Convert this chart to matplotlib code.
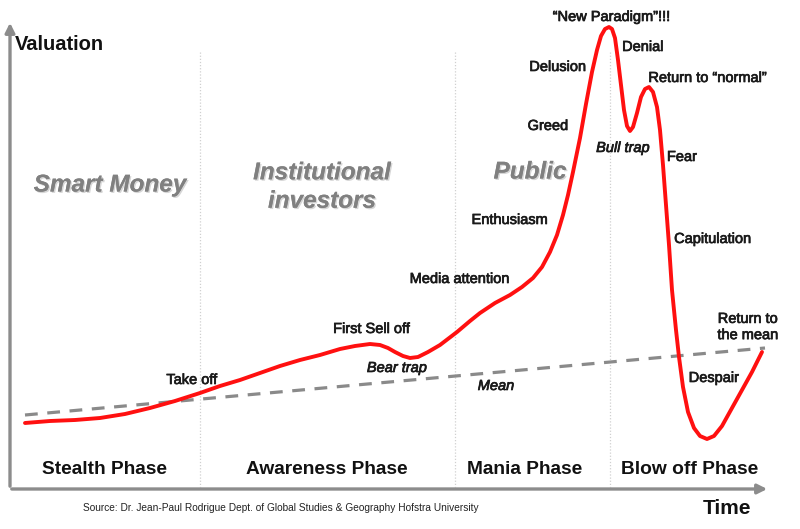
import matplotlib
matplotlib.use("Agg")
import matplotlib.pyplot as plt
import matplotlib.patheffects as pe

plt.rcParams["font.family"] = ["Liberation Sans", "DejaVu Sans"]

# curve: time (px from left), valuation (px from top)
time = [25, 50, 75, 100, 125, 150, 175, 200, 220, 240, 260, 280, 300, 320, 340,
        355, 370, 380, 388, 395, 403, 410, 418, 428, 440, 457, 470, 480, 495,
        510, 522, 533, 542, 550, 557, 563, 568, 573, 580, 586, 592, 597, 601,
        605, 609, 612, 615, 618, 621, 624, 627, 630, 633, 637, 641, 645, 649,
        653, 657, 660, 663, 666, 669, 672, 676, 679, 683, 688, 694, 700, 707,
        714, 722, 732, 742, 752, 762]
valuation = [423, 421, 420, 418, 414, 408, 401, 393, 386, 380, 373, 366, 360,
             355, 349, 346, 344, 345, 348, 352, 356, 358, 357, 352, 345, 332,
             321, 313, 303, 295, 287, 278, 267, 252, 235, 215, 195, 172, 138,
             104, 72, 50, 36, 29, 27, 29, 38, 60, 85, 110, 126, 131, 127, 113,
             97, 89, 87, 92, 107, 130, 165, 205, 245, 290, 330, 357, 387, 412,
             428, 436, 439, 436, 426, 408, 390, 372, 352]

mean_time = [25, 765]
mean_val = [415, 348]

dividers = [200, 455, 610]

phases = ["Stealth Phase", "Awareness Phase", "Mania Phase", "Blow off Phase"]
phase_x = [105, 327, 525, 690]

groups = ["Smart Money", "Institutional\ninvestors", "Public"]
group_xy = [(110, 185), (322, 187), (530, 172)]

labels = ["Take off", "First Sell off", "Media attention", "Enthusiasm",
          "Greed", "Delusion", "\u201cNew Paradigm\u201d!!!", "Denial",
          "Return to \u201cnormal\u201d", "Fear", "Capitulation",
          "Return to\nthe mean", "Despair"]
label_xy = [(192, 380), (372, 329), (460, 279), (510, 220), (548, 126),
            (558, 67), (612, 17), (643, 47), (708, 78), (682, 157),
            (713, 239), (748, 327), (714, 378)]

italic_labels = ["Bear trap", "Bull trap", "Mean"]
italic_xy = [(397, 368), (623, 148), (496, 386)]

fig = plt.figure(figsize=(8, 5.29), dpi=100)
ax = fig.add_axes([0, 0, 1, 1])
ax.set_xlim(0, 800)
ax.set_ylim(529, 0)
ax.axis("off")

# axes with arrows
ax.annotate("", xy=(10, 20), xytext=(10, 489),
            arrowprops=dict(arrowstyle="-|>", color="#8c8c8c", lw=2.4,
                            mutation_scale=14))
ax.annotate("", xy=(770, 489), xytext=(9, 489),
            arrowprops=dict(arrowstyle="-|>", color="#8c8c8c", lw=2.4,
                            mutation_scale=14))

for x in dividers:
    ax.plot([x, x], [52, 487], color="#d0d0d0", lw=0.9, ls=(0, (1, 1.5)))

ax.plot(mean_time, mean_val, color="#8a8a8a", lw=2.3, ls=(0, (4, 3)))
ax.plot(time, valuation, color="#ff1010", lw=2.8, solid_joinstyle="round",
        solid_capstyle="round")

semi = [pe.withStroke(linewidth=0.5, foreground="#1a1a1a")]
grey_fx = [pe.withSimplePatchShadow(offset=(1, -1), shadow_rgbFace="#bbbbbb",
                                    alpha=0.6), pe.Normal()]

ax.text(15, 45, "Valuation", fontsize=14.5, fontweight="bold", color="#111111",
        ha="left", va="center")
ax.text(727, 508, "Time", fontsize=15, fontweight="bold", color="#111111",
        ha="center", va="center")

for name, x in zip(phases, phase_x):
    ax.text(x, 470, name, fontsize=13.8, fontweight="bold", color="#111111",
            ha="center", va="center")

for name, (x, y) in zip(groups, group_xy):
    ax.text(x, y, name, fontsize=17.5, fontweight="bold", style="italic",
            color="#808080", ha="center", va="center", linespacing=1.3,
            path_effects=grey_fx)

for name, (x, y) in zip(labels, label_xy):
    ax.text(x, y, name, fontsize=10.5, color="#1a1a1a", ha="center",
            va="center", linespacing=1.2, path_effects=semi)

for name, (x, y) in zip(italic_labels, italic_xy):
    ax.text(x, y, name, fontsize=10.5, style="italic", color="#1a1a1a",
            ha="center", va="center", path_effects=semi)

ax.text(281, 508, "Source: Dr. Jean-Paul Rodrigue Dept. of Global Studies & "
        "Geography Hofstra University", fontsize=7.3, color="#222222",
        ha="center", va="center")

fig.savefig("out.png", dpi=100)
